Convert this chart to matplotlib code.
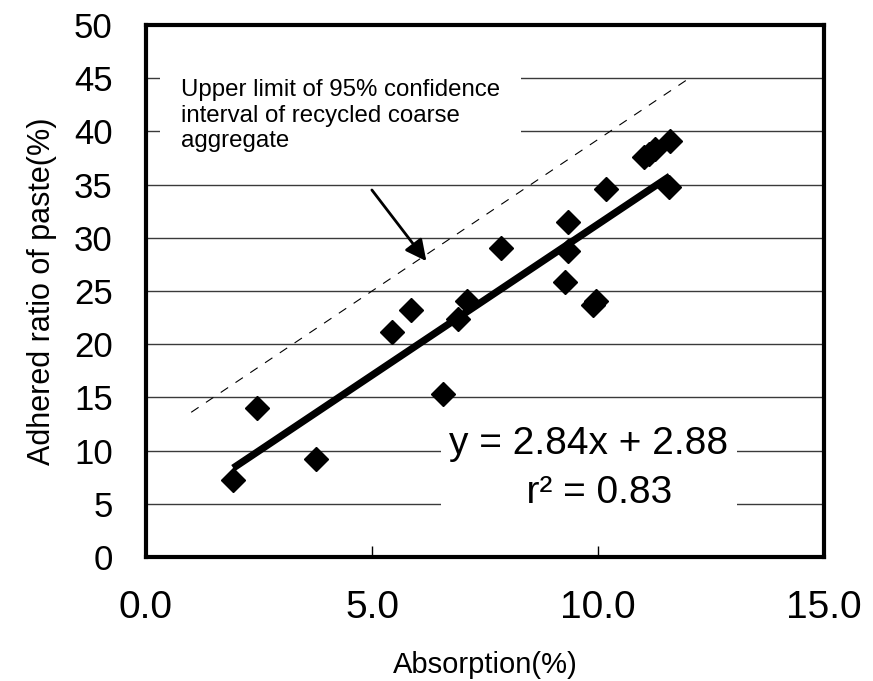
import matplotlib
matplotlib.use("Agg")
import matplotlib.pyplot as plt
import matplotlib.font_manager as fm
import numpy as np

# ---- data ----
absorption = [1.93, 2.45, 3.76, 5.45, 5.86, 6.58, 6.90, 7.11, 7.85, 9.27,
              9.34, 9.34, 9.90, 9.95, 10.18, 11.02, 11.12, 11.27, 11.56, 11.59]
paste_ratio = [7.2, 14.0, 9.2, 21.1, 23.2, 15.3, 22.4, 24.1, 29.0, 25.8,
               28.8, 31.5, 23.7, 24.1, 34.6, 37.6, 37.9, 38.3, 34.8, 39.1]
slope = 2.84
intercept = 2.88
fit_x = [1.93, 11.59]
upper_x = [1.0, 11.95]
upper_y = [13.6, 44.8]
x_ticks = [0.0, 5.0, 10.0, 15.0]
x_tick_labels = ["0.0", "5.0", "10.0", "15.0"]
y_ticks = list(range(0, 51, 5))
annotation_text = "Upper limit of 95% confidence\ninterval of recycled coarse\naggregate"
equation_text = "y = 2.84x + 2.88\n  r\u00b2 = 0.83"


def has_font(name):
    try:
        fm.findfont(fm.FontProperties(family=name), fallback_to_default=False)
        return True
    except Exception:
        return False

sans = "Liberation Sans" if has_font("Liberation Sans") else "DejaVu Sans"
narrow = "Liberation Sans Narrow" if has_font("Liberation Sans Narrow") else sans

fig = plt.figure(figsize=(8.73, 6.81), dpi=100)
ax = fig.add_axes([146 / 873, 1 - 557 / 681, (824 - 146) / 873, (557 - 25) / 681])

ax.set_xlim(0, 15)
ax.set_ylim(0, 50)

# grid
for yv in y_ticks[1:-1]:
    ax.axhline(yv, color="#3a3a3a", lw=1.0, zorder=1)

for s in ax.spines.values():
    s.set_linewidth(3)
    s.set_color("black")
    s.set_zorder(6)

ax.set_xticks(x_ticks)
ax.set_xticklabels(x_tick_labels, fontfamily=narrow, fontsize=28)
ax.set_yticks(y_ticks)
ax.set_yticklabels([str(v) for v in y_ticks], fontfamily=sans, fontsize=25)
ax.tick_params(axis="x", direction="in", length=8, width=1, pad=24)
ax.tick_params(axis="y", direction="in", length=0, pad=24)

ax.set_xlabel("Absorption(%)", fontfamily=narrow, fontsize=21, labelpad=18)
ax.set_ylabel("Adhered ratio of paste(%)", fontfamily=sans, fontsize=22, labelpad=12)

# dashed upper limit
ax.plot(upper_x, upper_y, color="black", lw=0.8, ls=(0, (8, 8)), zorder=3)

# regression line
fx = np.array(fit_x)
ax.plot(fx, slope * fx + intercept, color="black", lw=5.2, solid_capstyle="butt", zorder=4)

# data
ax.plot(absorption, paste_ratio, ls="none", marker="D", ms=12, color="black", zorder=5)

# annotation text with arrow
ax.text(0.77, 44.9, annotation_text, fontfamily=sans, fontsize=17.3, ha="left", va="top",
        linespacing=1.2, zorder=2,
        bbox=dict(facecolor="white", edgecolor="none", pad=15))
ax.annotate("", xy=(6.24, 27.6), xytext=(4.96, 34.7),
            arrowprops=dict(arrowstyle="-|>", lw=2, color="black", mutation_scale=32),
            zorder=4)

# equation text
ax.text(9.8, 8.3, equation_text, fontfamily=narrow, fontsize=28, ha="center", va="center",
        multialignment="center", linespacing=1.45, zorder=2,
        bbox=dict(facecolor="white", edgecolor="none", pad=6))

fig.savefig("out.png", dpi=100)
